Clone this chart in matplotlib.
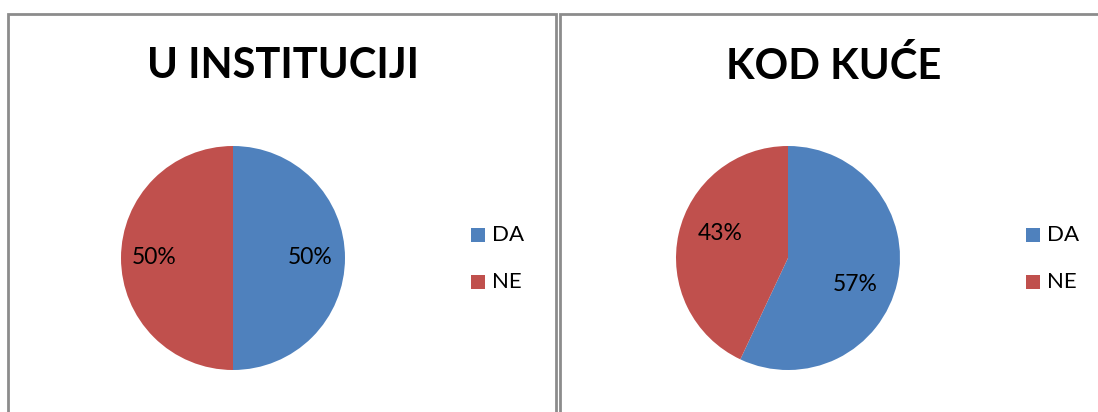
import matplotlib
matplotlib.use("Agg")
import matplotlib.pyplot as plt
from matplotlib.patches import Rectangle

# ── Données ──────────────────────────────────────────────────────────────────
categories = ["DA", "NE"]
titles = ["U INSTITUCIJI", "KOD KUĆE"]
institucija = [50, 50]
kuca = [57, 43]
colors = ["#4F81BD", "#C0504D"]

# positions des étiquettes (en rayons, comme dans Excel)
label_pos_inst = [(0.69, 0.0), (-0.70, 0.0)]
label_pos_kuca = [(0.60, -0.24), (-0.61, 0.22)]

plt.rcParams["font.family"] = ["Lato", "DejaVu Sans"]

W, H = 1098, 412
fig = plt.figure(figsize=(W / 100, H / 100), dpi=100)

def fx(px):
    return px / W

def fy(py):
    return 1 - py / H

# ── Cadres des deux panneaux ─────────────────────────────────────────────────
for x0, x1 in [(8, 556), (560, 1110)]:
    fig.add_artist(Rectangle((fx(x0), fy(430)), fx(x1 - x0), fy(14) - fy(430),
                             transform=fig.transFigure, fill=False,
                             edgecolor="#8C8C8C", lw=2))

# ── Camemberts ───────────────────────────────────────────────────────────────
panels = [(233, titles[0], institucija, label_pos_inst, 283),
          (788, titles[1], kuca, label_pos_kuca, 834)]
for cx, title, values, lpos, tx in panels:
    r = 112
    ax = fig.add_axes([fx(cx - r), fy(258 + r), fx(2 * r), fy(258 - r) - fy(258 + r)])
    wedges, texts, autotexts = ax.pie(values, colors=colors, startangle=90,
                                      counterclock=False, autopct="%d%%",
                                      textprops={"fontsize": 16.5, "color": "black"})
    for t, p in zip(autotexts, lpos):
        t.set_position(p)
    ax.set_xlim(-1, 1)
    ax.set_ylim(-1, 1)
    ax.set_aspect("equal")
    ax.axis("off")

    fig.text(fx(tx), fy(66), title, ha="center", va="center",
             fontsize=30, fontweight="bold")

    # Légende
    lx = cx + 245
    for i, (cat, col) in enumerate(zip(categories, colors)):
        ly = 235 + 47 * i
        fig.add_artist(Rectangle((fx(lx - 7), fy(ly + 7)), fx(14), fy(ly - 7) - fy(ly + 7),
                                 transform=fig.transFigure, color=col, lw=0))
        fig.text(fx(lx + 14), fy(ly), cat, ha="left", va="center", fontsize=16)

fig.savefig("out.png", dpi=100, facecolor="white")
